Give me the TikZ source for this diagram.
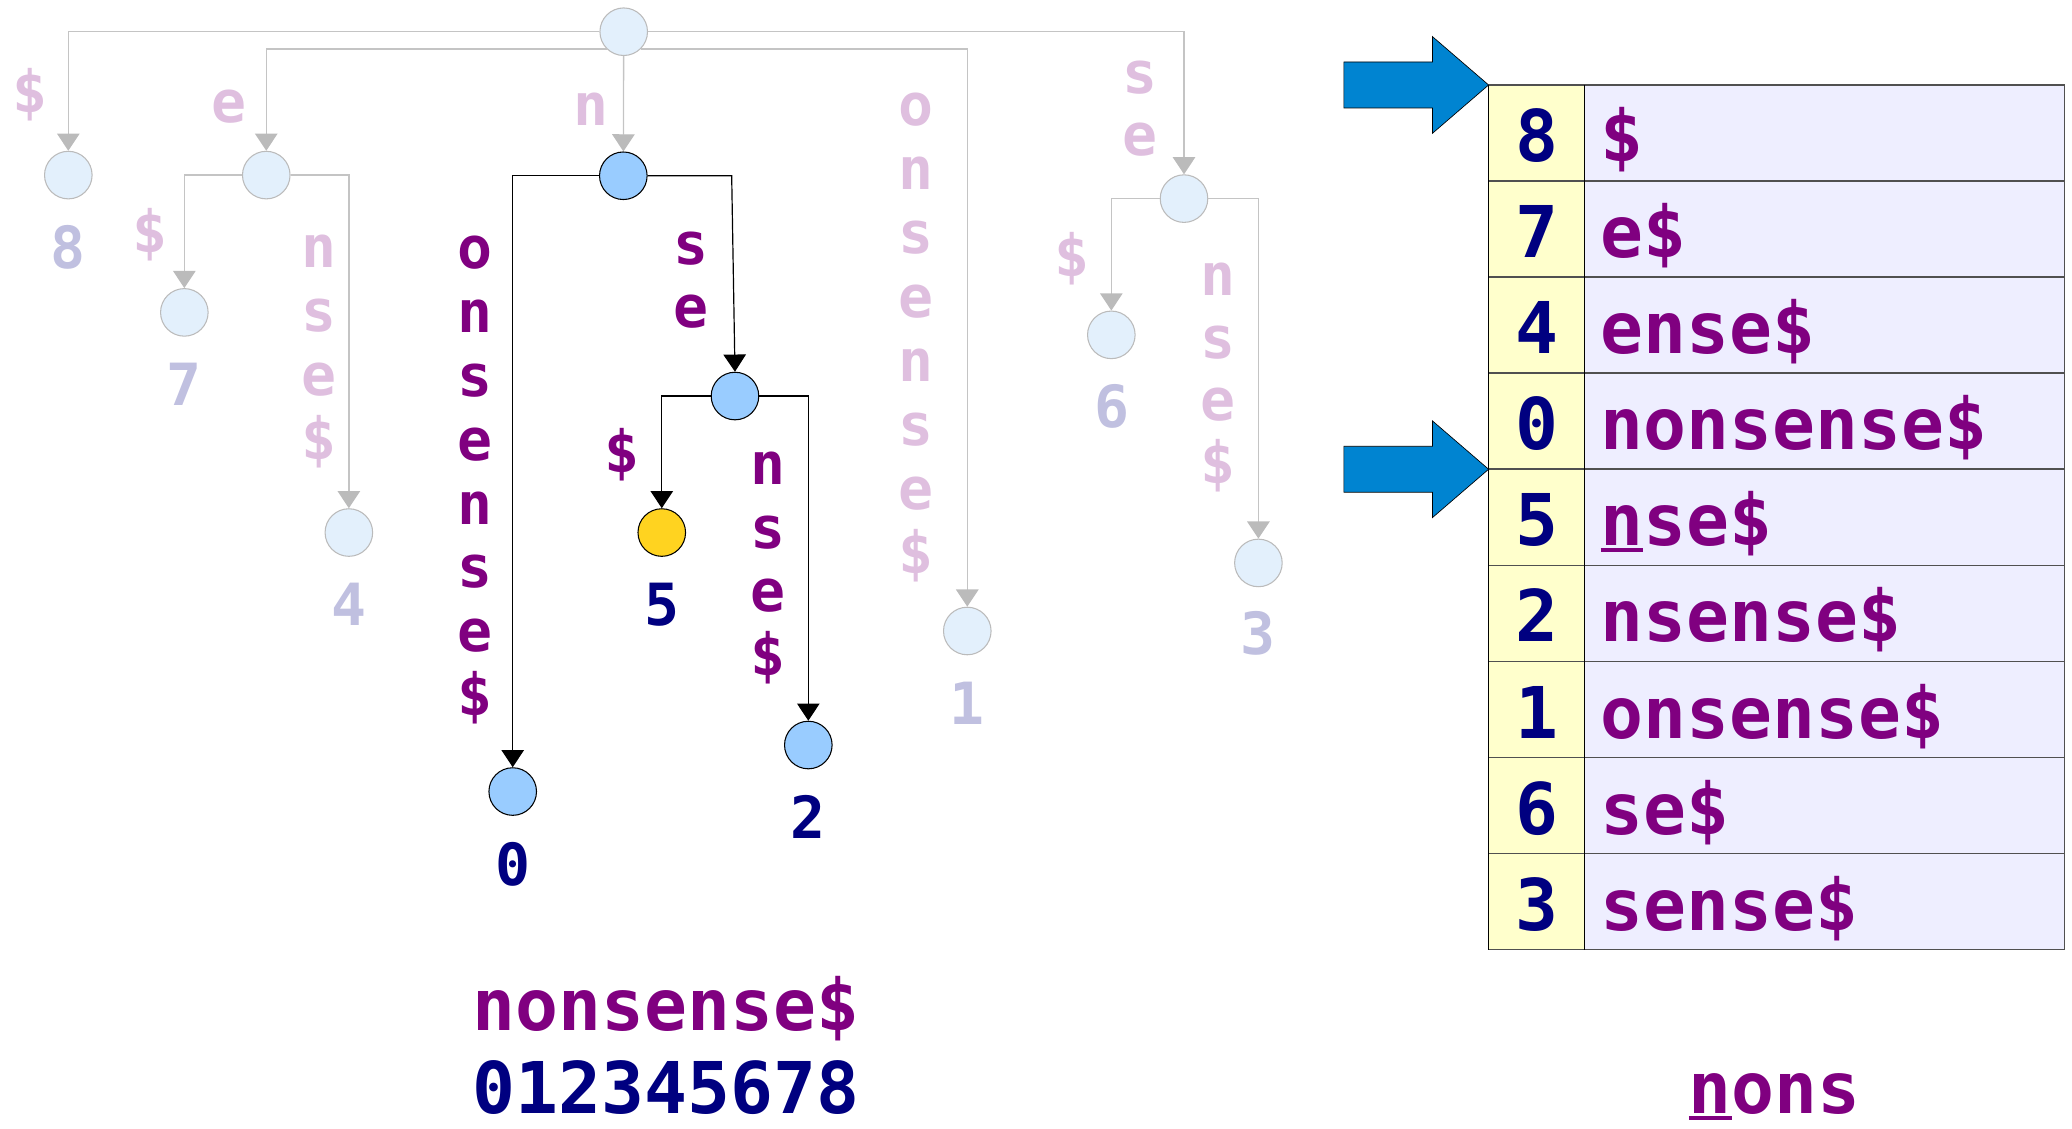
\documentclass[tikz,border=0pt]{standalone}
\usepackage{fontspec}
\newfontfamily\monofam{DejaVu Sans Mono}
\usetikzlibrary{arrows.meta}
\definecolor{palelab}{HTML}{DFBFDF}
\definecolor{palenum}{HTML}{C0C0E0}
\definecolor{palefill}{HTML}{E3F0FC}
\definecolor{paleline}{HTML}{C4C4C4}
\definecolor{palehead}{HTML}{BBBBBB}
\definecolor{dpurple}{HTML}{800080}
\definecolor{navy}{HTML}{000080}
\definecolor{bluenode}{HTML}{99CCFF}
\definecolor{goldnode}{HTML}{FFD320}
\definecolor{tyellow}{HTML}{FFFFCC}
\definecolor{tlav}{HTML}{EEEEFF}
\definecolor{barrow}{HTML}{0084D1}
\definecolor{tline}{HTML}{505050}
\newcommand\fbig{\monofam\bfseries\fontsize{54}{60}\selectfont}
\newcommand\fsml{\monofam\bfseries\fontsize{44}{48}\selectfont}
\newcommand\ulchar[1]{\rlap{\rule[-0.08em]{0.6em}{0.05em}}#1}
\newcommand\vstack[6]{%
  \foreach \c [count=\i from 0] in {#6} {\node[#2] (#1-\i) at ({#3},{#4+\i*#5}) {\c};}}
\begin{document}
\begin{tikzpicture}[x=1pt,y=-1pt,
  pnode/.style={circle,minimum size=36pt,inner sep=0pt,draw=palehead,fill=palefill,line width=0.8pt},
  bnode/.style={circle,minimum size=36pt,inner sep=0pt,draw=black,fill=bluenode,line width=0.8pt},
  ynode/.style={bnode,fill=goldnode},
  gedge/.style={draw=paleline,line width=1pt,-{Triangle[width=17pt,length=13pt,color=palehead]}},
  dedge/.style={draw=black,line width=0.9pt,-{Triangle[width=17pt,length=13pt,color=black]}},
  plet/.style={font=\fsml,text=palelab,anchor=base,inner sep=0pt},
  dlet/.style={font=\fsml,text=dpurple,anchor=base,inner sep=0pt},
  pnum/.style={font=\fsml,text=palenum,anchor=base,inner sep=0pt},
  dnum/.style={font=\fsml,text=navy,anchor=base,inner sep=0pt},
  tnum/.style={font=\fbig,text=navy,anchor=base,inner sep=0pt},
  tsuf/.style={font=\fbig,text=dpurple,anchor=base west,inner sep=0pt},
  bigarrow/.style={fill=barrow,draw=black,line width=0.5pt}]
\useasboundingbox (0,0) rectangle (1568,854);

% ---- tree nodes ----
\node[pnode] (root) at (472,24) {};
\node[pnode] (v8) at (51.7,132.5) {};
\node[pnode] (ve) at (201.5,132.5) {};
\node[bnode] (vn) at (471.7,133) {};
\node[pnode] (v1) at (732,477.5) {};
\node[pnode] (vse) at (896,150.3) {};
\node[pnode] (v7) at (139.5,236.4) {};
\node[pnode] (v4) at (264,403) {};
\node[pnode] (v6) at (841,253.4) {};
\node[pnode] (v3) at (952.3,426) {};
\node[bnode] (v0) at (388,599) {};
\node[bnode] (vse2) at (556.2,299.7) {};
\node[ynode] (v5) at (500.8,403) {};
\node[bnode] (v2) at (611.7,563.8) {};
\coordinate (bend) at (553.7,133);

% ---- edges ----
\draw[gedge] (root.west) -| (v8);
\draw[gedge] (root.south west) -| (ve);
\draw[gedge] (root) -- (vn);
\draw[gedge] (root.south east) -| (v1);
\draw[gedge] (root.east) -| (vse);
\draw[gedge] (ve.west) -| (v7);
\draw[gedge] (ve.east) -| (v4);
\draw[gedge] (vse.west) -| (v6);
\draw[gedge] (vse.east) -| (v3);
\draw[dedge] (vn.west) -| (v0);
\draw[dedge] (vn.east) -- (bend) -- (vse2.north);
\draw[dedge] (vse2.west) -| (v5);
\draw[dedge] (vse2.east) -| (v2);

% ---- edge labels ----
\node[plet] (l8) at (23,85.5) {\$};
\node[plet] (le) at (173,92.7) {e};
\node[plet] (ln) at (447.6,95.3) {n};
\vstack{l1}{plet}{693}{95.3}{48.4}{o,n,s,e,n,s,e,\$}
\vstack{lse}{plet}{862.8}{71}{47}{s,e}
\node[plet] (l7) at (113.2,191) {\$};
\vstack{l4}{plet}{241.6}{202.5}{48.3}{n,s,e,\$}
\node[plet] (l6) at (811.5,209) {\$};
\vstack{l3}{plet}{921.5}{223.5}{47.5}{n,s,e,\$}
\vstack{l0}{dlet}{359.8}{203.4}{48.3}{o,n,s,e,n,s,e,\$}
\vstack{lse2}{dlet}{523}{200}{48}{s,e}
\node[dlet] (l5) at (471,357.8) {\$};
\vstack{l2}{dlet}{581}{367}{48}{n,s,e,\$}

% ---- leaf numbers ----
\node[pnum] (n8) at (51.7,203) {8};
\node[pnum] (n7) at (139.5,306.9) {7};
\node[pnum] (n4) at (264,473.5) {4};
\node[pnum] (n1) at (732,548) {1};
\node[pnum] (n6) at (841.3,323.8) {6};
\node[pnum] (n3) at (952.3,495.5) {3};
\node[dnum] (n5) at (500.8,473.7) {5};
\node[dnum] (n0) at (388,669.8) {0};
\node[dnum] (n2) at (611.7,634.4) {2};

% ---- string and positions ----
\node[font=\fbig,text=dpurple,anchor=base,inner sep=0pt] (str) at (504,780) {nonsense\$};
\node[font=\fbig,text=navy,anchor=base,inner sep=0pt] (idx) at (504,843) {012345678};

% ---- suffix array table ----
\def\tL{1126.5}\def\tM{1199.2}\def\tR{1562.4}\def\tT{64.3}\def\rh{72.7}
\fill[tyellow] (\tL,\tT) rectangle (\tM,{\tT+9*\rh});
\fill[tlav] (\tM,\tT) rectangle (\tR,{\tT+9*\rh});
\foreach \k in {0,...,9} {\draw[tline,line width=1.2pt] (\tL,{\tT+\k*\rh}) -- (\tR,{\tT+\k*\rh});}
\draw[black,line width=0.9pt] (\tL,\tT) -- (\tL,{\tT+9*\rh});
\draw[black,line width=0.9pt] (\tM,\tT) -- (\tM,{\tT+9*\rh});
\draw[tline,line width=1.2pt] (\tR,\tT) -- (\tR,{\tT+9*\rh});
\foreach \num/\suf [count=\k from 0] in {8/\$,7/e\$,4/ense\$,0/nonsense\$,5/\ulchar{n}se\$,2/nsense\$,1/onsense\$,6/se\$,3/sense\$} {
  \node[tnum] (sa-\k) at ({(\tL+\tM)/2},{\tT+\k*\rh+58}) {\num};
  \node[tsuf] (suf-\k) at (1211,{\tT+\k*\rh+58}) {\suf};
}

% ---- pointer arrows ----
\coordinate (tipA) at (\tL,\tT);
\coordinate (tipB) at (\tL,{\tT+4*\rh});
\path[bigarrow] (tipA) -- ++(-42.5,-36.6) -- ++(0,19.2) -- ++(-67,0) -- ++(0,34.8) -- ++(67,0) -- ++(0,19.2) -- cycle;
\path[bigarrow] (tipB) -- ++(-42.5,-36.6) -- ++(0,19.2) -- ++(-67,0) -- ++(0,34.8) -- ++(67,0) -- ++(0,19.2) -- cycle;

\node[font=\fbig,text=dpurple,anchor=base,inner sep=0pt] (pat) at (1343,843) {\ulchar{n}ons};
\end{tikzpicture}
\end{document}
